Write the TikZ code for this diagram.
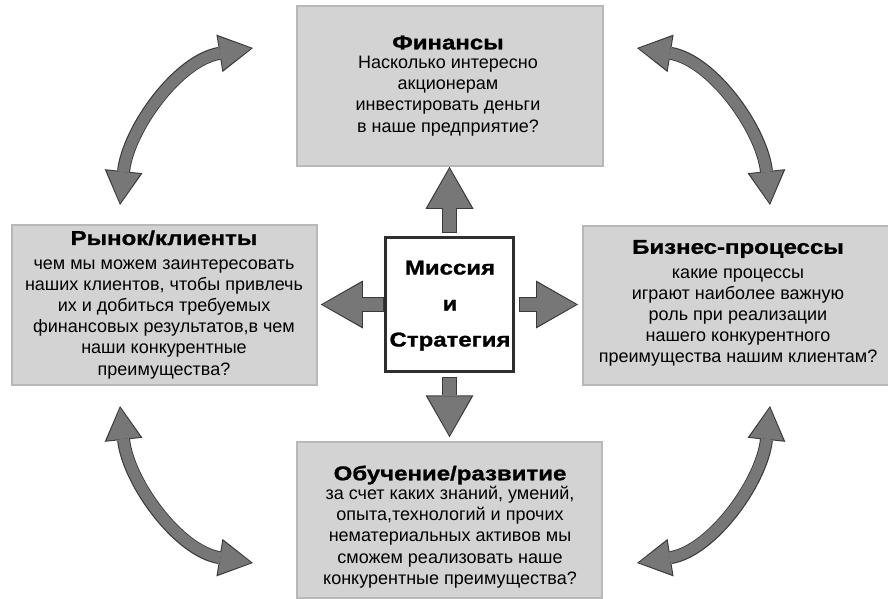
\documentclass[tikz,border=0pt]{standalone}
\usepackage{fontspec}
\setmainfont{Liberation Sans}
\newfontfamily\headfont[FakeStretch=1.2, BoldFeatures={FakeBold=1.2}]{Liberation Sans}
\usetikzlibrary{arrows.meta}

\definecolor{panelfill}{HTML}{D3D3D3}
\definecolor{paneledge}{HTML}{B8B8B8}
\definecolor{arrowfill}{HTML}{777777}
\definecolor{arrowedge}{HTML}{3A3A3A}
\definecolor{coreedge}{HTML}{2E2E2E}

\tikzset{
  panel/.style={draw=paneledge, line width=1.5pt, fill=panelfill, inner sep=0pt},
  core/.style={draw=coreedge, line width=3pt, fill=white, inner sep=0pt,
    minimum width=128pt, minimum height=134pt},
  bodytext/.style={align=center, inner sep=0pt, font=\fontsize{18}{21.2}\selectfont},
  coretext/.style={align=center, inner sep=0pt,
    font=\headfont\bfseries\fontsize{20}{36}\selectfont},
  % straight block arrow: #1 = gap at the tail, #2 = gap at the tip
  linkarrow/.style 2 args={
    draw=arrowfill, line width=13pt,
    -{Triangle[width=44pt,length=39pt,line width=0pt]},
    shorten <=#1+1pt, shorten >=#2+2pt,
    preaction={draw=arrowedge, line width=15pt, shorten <=#1, shorten >=#2,
      -{Triangle[width=48pt,length=42pt,line width=0pt]}}
  },
  % curved double-headed arrow between neighbouring panels
  looparrow/.style={
    draw=arrowfill, line width=11pt,
    {Triangle[width=34pt,length=31pt,line width=0pt]}-{Triangle[width=34pt,length=31pt,line width=0pt]},
    shorten <=2pt, shorten >=2pt,
    preaction={draw=arrowedge, line width=13pt, shorten <=0pt, shorten >=0pt,
      {Triangle[width=38pt,length=34pt,line width=0pt]}-{Triangle[width=38pt,length=34pt,line width=0pt]}}
  }
}

\newcommand{\paneltitle}[1]{{\headfont\bfseries\fontsize{20}{24}\selectfont #1}}

\begin{document}
\begin{tikzpicture}[x=1pt, y=-1pt]
  \useasboundingbox (0,0) rectangle (888,599);

  % panels
  \node[panel, minimum width=306pt, minimum height=160pt] (fin) at (450,86) {};
  \node[panel, minimum width=305pt, minimum height=160pt] (mkt) at (164.5,305) {};
  \node[panel, minimum width=310pt, minimum height=159pt] (biz) at (738,305.5) {};
  \node[panel, minimum width=305pt, minimum height=156pt] (learn) at (449.5,520) {};
  \node[core] (core) at (449.5,304.5) {};

  % panel texts
  \node[bodytext] (fin-t) at (448,85.7) {\paneltitle{Финансы}\\[-2pt]
    Насколько интересно\\ акционерам\\ инвестировать деньги\\ в наше предприятие?};
  \node[bodytext] (mkt-t) at (164,304.7) {\paneltitle{Рынок/клиенты}\\[3pt]
    чем мы можем заинтересовать\\ наших клиентов, чтобы привлечь\\
    их и добиться требуемых\\ финансовых результатов,в чем\\
    наши конкурентные\\ преимущества?};
  \node[bodytext] (biz-t) at (738,303.3) {\paneltitle{Бизнес-процессы}\\[3pt]
    какие процессы\\ играют наиболее важную\\ роль при реализации\\
    нашего конкурентного\\ преимущества нашим клиентам?};
  \node[bodytext] (learn-t) at (450,526.8) {\paneltitle{Обучение/развитие}\\[-2pt]
    за счет каких знаний, умений,\\ опыта,технологий и прочих\\
    нематериальных активов мы\\ сможем реализовать наше\\
    конкурентные преимущества?};
  \node[coretext] (core-t) at (450,305.7) {Миссия\\ и\\ Стратегия};

  % arrows from the centre to the four panels
  \draw[linkarrow={3.5pt}{0pt}] (core.north) -- (core.north |- fin.south);
  \draw[linkarrow={0pt}{3pt}] (core.west) -- (core.west -| mkt.east);
  \draw[linkarrow={3.5pt}{4.25pt}] (core.east) -- (core.east -| biz.west);
  \draw[linkarrow={3.5pt}{4pt}] (core.south) -- (core.south |- learn.north);

  % ends of the curved arrows, beside the panel corners
  \coordinate (tl-a) at (120,205);
  \coordinate (tl-b) at (253,48);
  \coordinate (tr-a) at (637,48);
  \coordinate (tr-b) at (770,205);
  \coordinate (bl-a) at (120,406);
  \coordinate (bl-b) at (253,563);
  \coordinate (br-a) at (637,563);
  \coordinate (br-b) at (770,406);

  % curved arrows linking neighbouring panels
  \draw[looparrow] (tl-a) .. controls (128,129.5) and (178,60) .. (tl-b);
  \draw[looparrow] (tr-a) .. controls (712,60) and (762,129.5) .. (tr-b);
  \draw[looparrow] (bl-a) .. controls (128,481.5) and (178,551) .. (bl-b);
  \draw[looparrow] (br-a) .. controls (712,551) and (762,481.5) .. (br-b);
\end{tikzpicture}
\end{document}
